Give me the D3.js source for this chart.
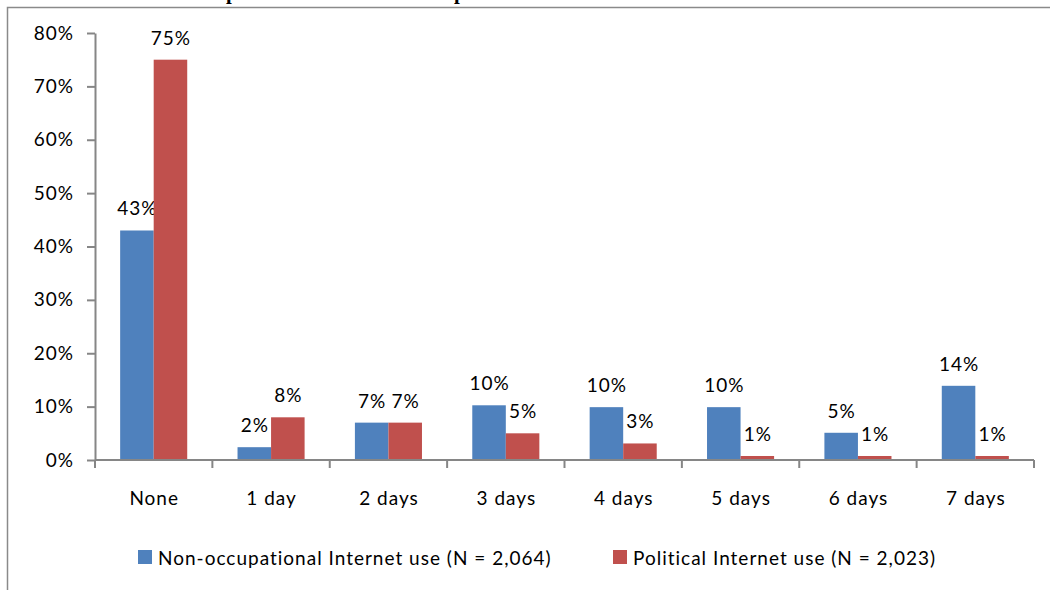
<!DOCTYPE html>
<html>
<head>
<meta charset="utf-8">
<script src="https://cdn.jsdelivr.net/npm/d3@7"></script>
<style>
  body { margin: 0; background: #fff; }
  svg { display: block; }
  text { font-family: Lato, "Open Sans", sans-serif; fill: #000; }
  .lbl { letter-spacing: 1px; font-size: 19px; }
</style>
</head>
<body>
<svg id="chart" width="1050" height="590"></svg>
<script>
// Days per week spent online, share of respondents
const categories = ["None", "1 day", "2 days", "3 days", "4 days", "5 days", "6 days", "7 days"];
const nonOccupational = [0.43, 0.024, 0.07, 0.1025, 0.099, 0.099, 0.051, 0.139];
const political = [0.75, 0.08, 0.07, 0.05, 0.031, 0.0075, 0.0075, 0.0075];
const seriesNames = [
  "Non-occupational Internet use (N = 2,064)",
  "Political Internet use (N = 2,023)"
];
const seriesColors = ["#4F81BD", "#C0504D"];
const yTicks = [0, 0.1, 0.2, 0.3, 0.4, 0.5, 0.6, 0.7, 0.8];
const titleText = "Non-occupational Internet use and political Internet use";

const svg = d3.select("#chart");
const pct = d3.format(".0%");
const axisColor = "#868686";

// Outer frame
svg.append("rect")
  .attr("x", 7.5).attr("y", 7.5)
  .attr("width", 1100).attr("height", 640)
  .attr("fill", "none").attr("stroke", "#8a8a8a").attr("stroke-width", 1.5);

// Title (sits above the frame, mostly off the page)
const title = svg.append("text")
  .attr("x", 0).attr("y", -1.2)
  .style("font-family", "'Liberation Serif', 'Times New Roman', serif")
  .style("font-weight", "bold").style("font-size", "20px")
  .text(titleText);
const p1 = titleText.indexOf("p");
const p2 = titleText.indexOf("p", p1 + 1);
const gap = title.node().getStartPositionOfChar(p2).x - title.node().getStartPositionOfChar(p1).x;
title.style("font-size", (20 * 228 / gap) + "px");
title.attr("x", 226 - title.node().getStartPositionOfChar(p1).x);

const x = d3.scaleBand().domain(categories).range([95, 1034]);
const xs = d3.scaleBand().domain([0, 1]).range([0, x.bandwidth()]).paddingOuter(0.75);
const y = d3.scaleLinear().domain([0, 0.8]).range([460, 33]);

// Y axis
const yAxis = svg.append("g")
  .attr("transform", "translate(95,0)")
  .call(d3.axisLeft(y).tickValues(yTicks).tickFormat(pct).tickSize(8).tickPadding(13).tickSizeOuter(0));
yAxis.select(".domain").attr("stroke", axisColor).attr("stroke-width", 2);
yAxis.selectAll(".tick line").attr("stroke", axisColor).attr("stroke-width", 2);
yAxis.selectAll(".tick text").attr("class", "lbl")
  .style("font-family", "Lato").style("font-size", null).attr("fill", "#000");

// Bars and value labels
const series = [nonOccupational, political];
series.forEach((vals, si) => {
  svg.append("g").selectAll("rect")
    .data(vals)
    .join("rect")
    .attr("x", (d, i) => x(categories[i]) + xs(si))
    .attr("y", d => y(d))
    .attr("width", xs.bandwidth())
    .attr("height", d => y(0) - y(d))
    .attr("fill", seriesColors[si]);

  svg.append("g").selectAll("text")
    .data(vals)
    .join("text")
    .attr("class", "lbl")
    .attr("x", (d, i) => x(categories[i]) + xs(si) + xs.bandwidth() / 2 + 0.5)
    .attr("y", d => y(d) - 15)
    .attr("text-anchor", "middle")
    .text(d => pct(d));
});

// X axis line with ticks at category boundaries
const xAxis = svg.append("g").attr("transform", `translate(0,${y(0)})`);
xAxis.append("line")
  .attr("x1", 95).attr("x2", 1034)
  .attr("stroke", axisColor).attr("stroke-width", 2);
const bounds = categories.map(c => x(c)).concat([x.range()[1]]);
xAxis.selectAll(".bt")
  .data(bounds)
  .join("line")
  .attr("x1", d => d).attr("x2", d => d)
  .attr("y1", 0).attr("y2", 8)
  .attr("stroke", axisColor).attr("stroke-width", 2);

svg.append("g").selectAll("text")
  .data(categories)
  .join("text")
  .attr("class", "lbl")
  .attr("x", c => x(c) + x.bandwidth() / 2 + 0.5)
  .attr("y", 505)
  .attr("text-anchor", "middle")
  .text(c => c);

// Legend
const legendX = [138, 613];
const legend = svg.append("g");
seriesNames.forEach((name, i) => {
  legend.append("rect")
    .attr("x", legendX[i]).attr("y", 550)
    .attr("width", 14).attr("height", 14)
    .attr("fill", seriesColors[i]);
  legend.append("text")
    .attr("class", "lbl")
    .attr("x", legendX[i] + 20).attr("y", 565)
    .text(name);
});
</script>
</body>
</html>
